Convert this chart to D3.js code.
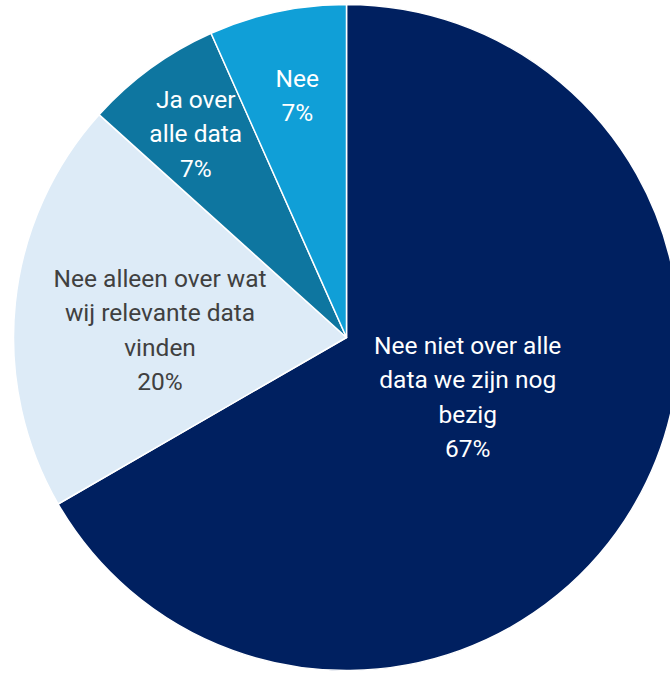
<!DOCTYPE html>
<html lang="nl">
<head>
<meta charset="UTF-8" />
<title>Pie</title>
<style>
  html, body { margin: 0; padding: 0; background: #fff; }
  svg { display: block; }
</style>
</head>
<body>
<div id="chart"></div>
<script src="https://cdn.jsdelivr.net/npm/d3@7"></script>
<script>
const width = 670;
const height = 673;

// data, clockwise from 12 o'clock (counts, 15 answers)
const categories = [
  ["Nee niet over alle", "data we zijn nog", "bezig"],
  ["Nee alleen over wat", "wij relevante data", "vinden"],
  ["Ja over", "alle data"],
  ["Nee"]
];
const values = [10, 3, 1, 1];
const percentLabels = ["67%", "20%", "7%", "7%"];

const colors = ["#002060", "#DDEBF7", "#0E76A0", "#109FD7"];
const textColors = ["#ffffff", "#404040", "#ffffff", "#ffffff"];
const labelRadius = [0.41, 0.563, 0.76, 0.74];
const labelShift = [[3, -9], [0, 12], [-2, 1], [2, -1]];

const cx = 346.5, cy = 337.5, r = 333;
const lineH = 34.5;

const svg = d3.select("#chart").append("svg")
  .attr("width", width)
  .attr("height", height);

const g = svg.append("g").attr("transform", `translate(${cx},${cy})`);

const pie = d3.pie().sort(null).value(d => d);
const arcs = pie(values);

const arc = d3.arc().innerRadius(0).outerRadius(r);

g.selectAll("path")
  .data(arcs)
  .enter()
  .append("path")
  .attr("d", arc)
  .attr("fill", (d, i) => colors[i])
  .attr("stroke", "#fff")
  .attr("stroke-width", 1.5)
  .attr("stroke-linejoin", "round");

g.selectAll("text.lbl")
  .data(arcs)
  .enter()
  .append("text")
  .attr("class", "lbl")
  .attr("text-anchor", "middle")
  .style("font-family", "Roboto, 'Open Sans', sans-serif")
  .style("font-size", "24.5px")
  .attr("fill", (d, i) => textColors[i])
  .each(function (d, i) {
    const lab = d3.arc().innerRadius(r * labelRadius[i]).outerRadius(r * labelRadius[i]);
    let [x, y] = lab.centroid(d);
    x += labelShift[i][0];
    y += labelShift[i][1];
    const lines = categories[i].concat([percentLabels[i]]);
    const y0 = y - (lines.length - 1) * lineH / 2;
    const t = d3.select(this);
    lines.forEach((s, k) => {
      t.append("tspan")
        .attr("x", x)
        .attr("y", y0 + k * lineH)
        .attr("dy", "0.35em")
        .text(s);
    });
  });
</script>
</body>
</html>
